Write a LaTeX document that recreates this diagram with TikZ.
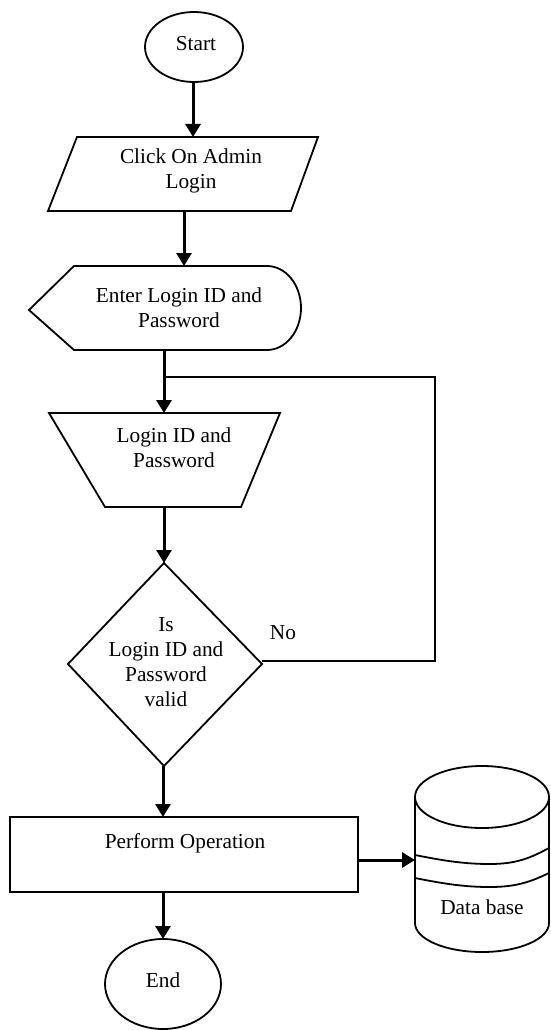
\documentclass[tikz,border=0pt]{standalone}
\usepackage{fontspec}
\setmainfont{Liberation Serif}
\usetikzlibrary{arrows.meta}
\tikzset{
  shapeline/.style={draw=black, line width=1.8pt, line join=miter},
  flow/.style={draw=black, line width=3pt, -{Triangle[length=13pt,width=15pt]}},
  loopline/.style={draw=black, line width=2pt},
  txt/.style={inner sep=0pt, align=center, font=\fontsize{21.3}{25}\selectfont},
}
\begin{document}
\begin{tikzpicture}[x=1pt,y=-1pt]
\useasboundingbox (0,0) rectangle (550,1030);
\fill[white] (0,0) rectangle (550,1030);

% Start
\draw[shapeline] (194,47) ellipse[x radius=49pt, y radius=35pt];
\node[txt] (start) at (196,44) {Start};
\coordinate (startS) at (193,82);

% Click On Admin Login (parallelogram)
\draw[shapeline] (77,137) -- (318,137) -- (291,211) -- (48,211) -- cycle;
\node[txt] (click) at (191,171) {Click On Admin\\Login};
\coordinate (clickN) at (193,137);
\coordinate (clickS) at (184,211);

% Enter Login ID and Password (display)
\draw[shapeline] (29,310) -- (74,266) -- (267,266)
  arc[start angle=90, end angle=-90, x radius=34pt, y radius=42pt]
  -- (74,350) -- cycle;
\node[txt] (enter) at (179,308) {Enter Login ID and\\Password};
\coordinate (enterN) at (184,266);
\coordinate (enterS) at (164,350);

% Login ID and Password (trapezoid)
\draw[shapeline] (49,413) -- (280,413) -- (241,507) -- (105,507) -- cycle;
\node[txt] (login) at (174,448) {Login ID and\\Password};
\coordinate (loginN) at (164,413);
\coordinate (loginS) at (164,507);
\coordinate (join) at (164,377);

% Decision diamond
\draw[shapeline] (164,563) -- (262,664) -- (164,766) -- (68,664) -- cycle;
\node[txt] (valid) at (166,662) {Is\\Login ID and\\Password\\valid};
\coordinate (validN) at (164,563);
\coordinate (validE) at (262,661);
\coordinate (validS) at (163,766);
\coordinate (loopR) at (435,661);
\node[txt] (no) at (283,633) {No};

% Perform Operation
\draw[shapeline] (10,817) rectangle (358,892);
\node[txt] (perform) at (185,843) {Perform Operation};
\coordinate (performN) at (163,817);
\coordinate (performE) at (358,860);
\coordinate (performS) at (163,892);

% Database cylinder
\draw[shapeline] (482,797) ellipse[x radius=67pt, y radius=31pt];
\draw[shapeline] (415,797) -- (415,923)
  arc[start angle=180, end angle=360, x radius=67pt, y radius=29pt]
  -- (549,797);
\draw[shapeline] (415,855) .. controls (445,861) and (465,864) .. (490,864)
  .. controls (518,864) and (532,857) .. (549,848);
\draw[shapeline] (415,878) .. controls (445,884) and (465,887) .. (490,887)
  .. controls (518,887) and (532,881) .. (549,873);
\node[txt] (db) at (482,907) {Data base};
\coordinate (dbW) at (415,860);

% End
\draw[shapeline] (163,984) ellipse[x radius=58pt, y radius=45pt];
\node[txt] (end) at (163,980) {End};
\coordinate (endN) at (163,939);

% Connectors
\draw[flow] (startS) -- (clickN);
\draw[flow] (clickS) -- (enterN);
\draw[flow] (enterS) -- (loginN);
\draw[flow] (loginS) -- (validN);
\draw[flow] (validS) -- (performN);
\draw[flow] (performE) -- (dbW);
\draw[flow] (performS) -- (endN);
\draw[loopline] (validE) -- (loopR) -- (loopR |- join) -- (join);
\end{tikzpicture}
\end{document}
